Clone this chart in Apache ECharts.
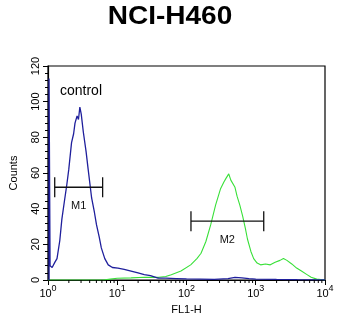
<!DOCTYPE html>
<html>
<head>
<meta charset="utf-8">
<script src="https://cdn.jsdelivr.net/npm/echarts@6/dist/echarts.min.js"></script>
<style>
  html, body { margin: 0; padding: 0; background: #fff; }
  #chart { width: 350px; height: 320px; }
</style>
</head>
<body>
<div id="chart"></div>
<script>
// control (blue) histogram, x given as log10(FL1-H)
var blueLogX = [0.015, 0.015, 0.03, 0.06, 0.1, 0.13, 0.17, 0.2, 0.24, 0.27, 0.3, 0.34, 0.37, 0.39, 0.42, 0.44, 0.46, 0.48, 0.51, 0.55, 0.58, 0.63, 0.67, 0.7, 0.74, 0.77, 0.82, 0.87, 0.93, 1.01, 1.1, 1.2, 1.3, 1.39, 1.48, 1.59, 1.7, 1.85, 2.0, 2.2, 2.4, 2.6, 2.7, 2.8, 2.9, 3.0, 3.3, 3.6, 4.0];
var blueCounts = [0, 113, 8, 7, 10, 12, 22, 34, 45, 53, 62, 77, 82, 88, 92, 90, 97, 93, 83, 72, 62, 46, 38, 31, 24, 18, 12, 8.5, 7, 6.7, 6, 5, 4, 3, 2.5, 1, 1, 0.8, 0.6, 0.5, 0.4, 0.8, 1.5, 1.2, 0.8, 0.5, 0.3, 0.2, 0.1];

// NCI-H460 (green) histogram
var greenLogX = [0, 0.8, 0.9, 1.0, 1.2, 1.4, 1.6, 1.7, 1.78, 1.92, 2.06, 2.15, 2.21, 2.28, 2.35, 2.42, 2.49, 2.54, 2.57, 2.61, 2.64, 2.66, 2.7, 2.73, 2.77, 2.81, 2.85, 2.88, 2.93, 2.97, 3.02, 3.07, 3.14, 3.21, 3.28, 3.35, 3.4, 3.45, 3.52, 3.59, 3.66, 3.74, 3.8, 3.88, 4.0];
var greenCounts = [0, 0, 0.5, 1, 1.2, 1.5, 1.5, 2, 3, 5, 8.5, 12, 15, 21.6, 31, 42, 51, 55, 57, 59.5, 56, 57, 52, 47, 42, 36, 29, 23, 16, 12, 9.5, 8.5, 9, 8.5, 10, 11, 12, 11, 9, 6.7, 5, 3, 1.5, 0.5, 0];

// gates: name, from, to, count level
var gateNames = ["M1", "M2"];
var gateFrom = [1.25, 116];
var gateTo = [6.15, 1304];
var gateLevel = [52, 33];

var xTickMajor = [1, 10, 100, 1000, 10000];

var minorX = [];
xTickMajor.slice(0, 4).forEach(function (d) {
  for (var k = 2; k <= 9; k++) minorX.push(d * k);
});

function toPairs(lx, ys) {
  return lx.map(function (v, i) { return [Math.pow(10, v), ys[i]]; });
}

var chart = echarts.init(document.getElementById("chart"));
var fam = "Liberation Sans, Arial, sans-serif";

var option = {
  animation: false,
  backgroundColor: "#fff",
  grid: { left: 46, right: 25, top: 66, bottom: 38, show: true, borderColor: "#000", borderWidth: 1.2 },
  xAxis: {
    type: "log",
    logBase: 10,
    min: 1,
    max: 10000,
    name: "FL1-H",
    nameLocation: "middle",
    nameGap: 24,
    nameTextStyle: { fontFamily: fam, fontSize: 11, color: "#000" },
    axisLine: { lineStyle: { color: "#000", width: 1.2 } },
    axisTick: { inside: false, length: 5, lineStyle: { color: "#000" } },
    splitLine: { show: false },
    minorTick: { show: false },
    axisLabel: {
      margin: 4,
      formatter: function (v) {
        return "{b|10}{s|" + Math.round(Math.log10(v)) + "}";
      },
      rich: {
        b: { fontFamily: fam, fontSize: 11, color: "#000", verticalAlign: "bottom" },
        s: { fontFamily: fam, fontSize: 9, color: "#000", verticalAlign: "top", padding: [0, 0, 6, 0] }
      }
    }
  },
  yAxis: {
    type: "value",
    min: 0,
    max: 120,
    interval: 20,
    name: "Counts",
    nameLocation: "middle",
    nameGap: 29,
    nameTextStyle: { fontFamily: fam, fontSize: 11, color: "#000" },
    axisLine: { show: true, lineStyle: { color: "#000", width: 1.2 } },
    axisTick: { show: true, length: 5, lineStyle: { color: "#000" } },
    minorTick: { show: true, splitNumber: 5, length: 3, lineStyle: { color: "#000" } },
    splitLine: { show: false },
    axisLabel: { rotate: 90, margin: 7, fontFamily: fam, fontSize: 11, color: "#000" }
  },
  graphic: [
    {
      type: "text",
      x: 170,
      y: 17,
      scaleX: 1.12,
      style: {
        text: "NCI-H460",
        font: "bold 25px " + fam,
        fill: "#000",
        align: "center",
        verticalAlign: "middle"
      }
    },
    {
      type: "text",
      left: 60,
      top: 84,
      style: { text: "control", font: "14px " + fam, fill: "#000" }
    }
  ],
  series: [
    {
      type: "line",
      data: toPairs(greenLogX, greenCounts),
      showSymbol: false,
      lineStyle: { color: "#38e038", width: 1.1 },
      z: 2
    },
    {
      type: "line",
      data: toPairs(blueLogX, blueCounts),
      showSymbol: false,
      lineStyle: { color: "#1f1f9c", width: 1.3 },
      z: 3
    },
    {
      type: "custom",
      clip: false,
      data: gateNames.map(function (n, i) { return [gateFrom[i], gateTo[i], gateLevel[i], n]; }),
      renderItem: function (params, api) {
        var a = api.coord([api.value(0), api.value(2)]);
        var b = api.coord([api.value(1), api.value(2)]);
        var st = { stroke: "#111", lineWidth: 1.3 };
        var h = 10;
        return {
          type: "group",
          children: [
            { type: "line", shape: { x1: a[0], y1: a[1], x2: b[0], y2: b[1] }, style: st },
            { type: "line", shape: { x1: a[0], y1: a[1] - h, x2: a[0], y2: a[1] + h }, style: st },
            { type: "line", shape: { x1: b[0], y1: b[1] - h, x2: b[0], y2: b[1] + h }, style: st },
            {
              type: "text",
              style: {
                text: gateNames[params.dataIndex],
                x: (a[0] + b[0]) / 2,
                y: a[1] + 19,
                align: "center",
                verticalAlign: "middle",
                font: "11px " + fam,
                fill: "#111"
              }
            }
          ]
        };
      },
      z: 4
    },
    {
      // log-scale minor ticks on the x axis
      type: "custom",
      clip: false,
      data: minorX.map(function (v) { return [v]; }),
      renderItem: function (params, api) {
        var p = api.coord([api.value(0), 0]);
        return {
          type: "line",
          shape: { x1: p[0], y1: p[1], x2: p[0], y2: p[1] + 3 },
          style: { stroke: "#000", lineWidth: 1 }
        };
      },
      z: 5
    }
  ]
};

chart.setOption(option);
</script>
</body>
</html>
